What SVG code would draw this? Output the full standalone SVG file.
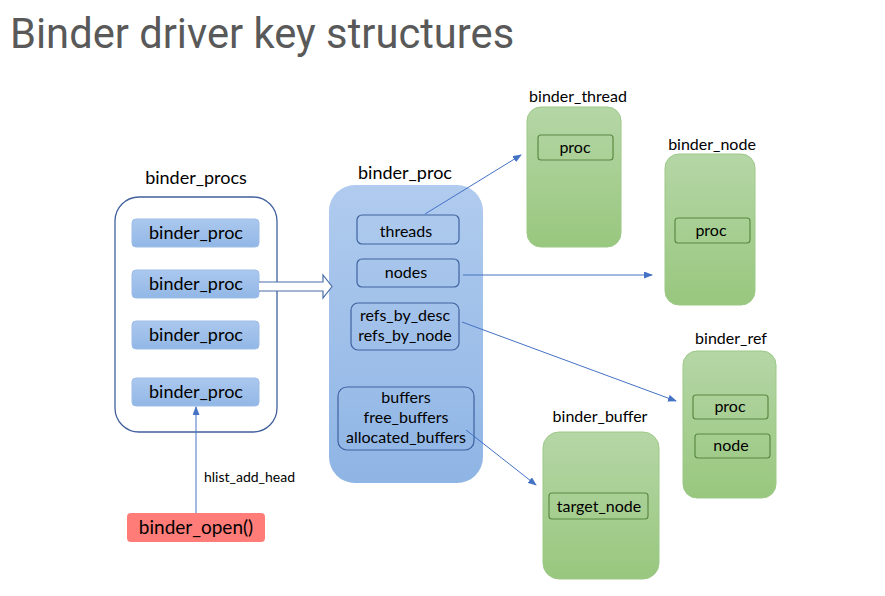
<svg xmlns="http://www.w3.org/2000/svg" width="885" height="596" viewBox="0 0 885 596">
<defs>
<linearGradient id="gBlue" x1="0" y1="0" x2="0" y2="1"><stop offset="0" stop-color="#b0cbee"/><stop offset="1" stop-color="#8fb5e5"/></linearGradient>
<linearGradient id="gBlueS" x1="0" y1="0" x2="0" y2="1"><stop offset="0" stop-color="#abc8ee"/><stop offset="1" stop-color="#92b7e6"/></linearGradient>
<linearGradient id="gGreen" x1="0" y1="0" x2="0" y2="1"><stop offset="0" stop-color="#b5d6a6"/><stop offset="1" stop-color="#98c77e"/></linearGradient>
<marker id="ah" markerWidth="9" markerHeight="7" refX="8" refY="3.5" orient="auto" markerUnits="userSpaceOnUse"><path d="M0,0 L9,3.5 L0,7 Z" fill="#4472c4"/></marker>
<style>
.t{font-family:Lato,"Open Sans",sans-serif;fill:#000;text-anchor:middle}
.lbl{font-size:18px}
.in{font-size:16px}
.blueIn{fill:none;stroke:#3e62a0;stroke-width:1.2}
.greenBox{fill:url(#gGreen);stroke:#9cc886;stroke-width:1}
.greenIn{fill:none;stroke:#5b8a44;stroke-width:1.2}
.conn{stroke:#4472c4;stroke-width:1;fill:none;marker-end:url(#ah)}
</style>
</defs>
<rect width="885" height="596" fill="#fff"/>
<text x="10" y="48" style="font-family:Roboto,sans-serif;font-size:41.7px;fill:#595959">Binder driver key structures</text>

<g id="binder_procs">
<text class="t lbl" x="196" y="184">binder_procs</text>
<rect x="115" y="197" width="162" height="235" rx="24" fill="#fff" stroke="#41609c" stroke-width="1.3"/>
<g id="bp1"><rect x="132" y="219" width="127" height="28" rx="4" fill="url(#gBlueS)" stroke="#9dbde8"/><text class="t lbl" x="196" y="239">binder_proc</text></g>
<g id="bp2"><rect x="132" y="270" width="127" height="28" rx="4" fill="url(#gBlueS)" stroke="#9dbde8"/><text class="t lbl" x="196" y="290">binder_proc</text></g>
<g id="bp3"><rect x="132" y="321" width="127" height="28" rx="4" fill="url(#gBlueS)" stroke="#9dbde8"/><text class="t lbl" x="196" y="341">binder_proc</text></g>
<g id="bp4"><rect x="132" y="378" width="127" height="28" rx="4" fill="url(#gBlueS)" stroke="#9dbde8"/><text class="t lbl" x="196" y="398">binder_proc</text></g>
</g>

<g id="binder_proc">
<text class="t lbl" x="405" y="179">binder_proc</text>
<rect x="329" y="185" width="154" height="298" rx="26" fill="url(#gBlue)"/>
<rect class="blueIn" x="357" y="215" width="102" height="29" rx="5"/>
<text class="t in" x="406" y="237">threads</text>
<rect class="blueIn" x="357" y="259" width="102" height="28" rx="5"/>
<text class="t in" x="406" y="278">nodes</text>
<rect class="blueIn" x="351" y="303" width="108" height="47" rx="7"/>
<text class="t in" x="405" y="321">refs_by_desc</text>
<text class="t in" x="405" y="341">refs_by_node</text>
<rect class="blueIn" x="338" y="387" width="136" height="63" rx="9"/>
<text class="t in" x="406" y="403">buffers</text>
<text class="t in" x="406" y="423">free_buffers</text>
<text class="t in" x="406" y="443">allocated_buffers</text>
</g>

<g id="binder_thread">
<text class="t in" x="578" y="102">binder_thread</text>
<rect class="greenBox" x="527" y="107" width="94" height="140" rx="14"/>
<rect class="greenIn" x="538" y="135" width="75" height="25" rx="3"/>
<text class="t in" x="575" y="153">proc</text>
</g>

<g id="binder_node">
<text class="t in" x="712" y="150">binder_node</text>
<rect class="greenBox" x="665" y="154" width="90" height="151" rx="14"/>
<rect class="greenIn" x="675" y="218" width="75" height="25" rx="3"/>
<text class="t in" x="711" y="236">proc</text>
</g>

<g id="binder_ref">
<text class="t in" x="731" y="344">binder_ref</text>
<rect class="greenBox" x="683" y="351" width="93" height="147" rx="14"/>
<rect class="greenIn" x="693" y="395" width="75" height="24" rx="3"/>
<text class="t in" x="730" y="412">proc</text>
<rect class="greenIn" x="695" y="434" width="75" height="24" rx="3"/>
<text class="t in" x="731" y="451">node</text>
</g>

<g id="binder_buffer">
<text class="t in" x="600" y="422">binder_buffer</text>
<rect class="greenBox" x="543" y="432" width="116" height="147" rx="16"/>
<rect class="greenIn" x="549" y="493" width="99" height="26" rx="3"/>
<text class="t in" x="599" y="512">target_node</text>
</g>

<g id="binder_open">
<rect x="127" y="513" width="138" height="29" rx="4" fill="#ff7c78"/>
<text class="t" x="196" y="534" style="font-size:19px">binder_open()</text>
</g>

<g id="connectors">
<path d="M259,282 H323 V275 L332,286.5 L323,298 V291 H259" fill="#fff" stroke="#4a6ea8" stroke-width="1.2"/>
<line class="conn" x1="196" y1="513" x2="196" y2="407"/>
<text x="204" y="482" style="font-family:Lato,'Open Sans',sans-serif;font-size:14px;fill:#000">hlist_add_head</text>
<line class="conn" x1="425" y1="214" x2="521" y2="155"/>
<line class="conn" x1="463" y1="275" x2="652" y2="275"/>
<line class="conn" x1="462" y1="322" x2="676" y2="401"/>
<line class="conn" x1="466" y1="430" x2="536" y2="485"/>
</g>
</svg>
